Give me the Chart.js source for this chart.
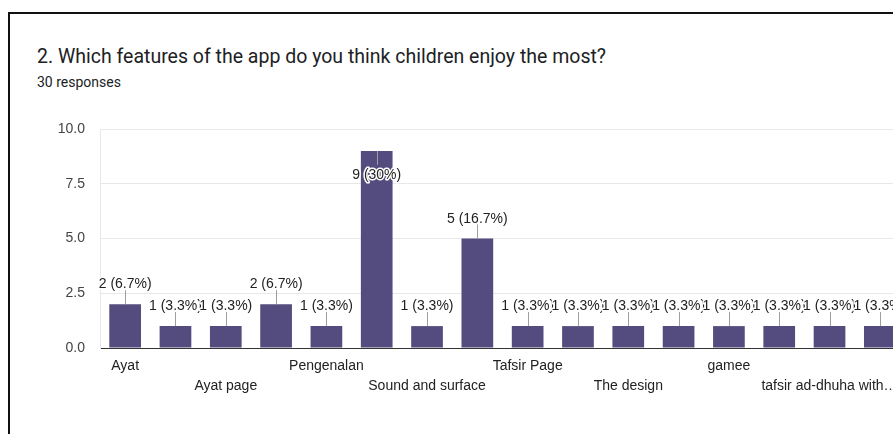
<!DOCTYPE html>
<html>
<head>
<meta charset="utf-8">
<script src="https://cdn.jsdelivr.net/npm/chart.js@4"></script>
<style>
  html, body { margin: 0; padding: 0; background: #fff; }
  body { width: 893px; height: 434px; overflow: hidden; position: relative; }
  .card {
    position: absolute; left: 8px; top: 12px; width: 1000px; height: 600px;
    border-top: 2px solid #111; border-left: 2px solid #111;
  }
  .title {
    position: absolute; left: 37px; top: 45px; margin: 0;
    font: 400 19.5px Roboto, "Noto Sans", sans-serif; color: #202124; white-space: nowrap;
  }
  .sub {
    position: absolute; left: 37px; top: 74px; margin: 0;
    font: 400 14px Roboto, "Noto Sans", sans-serif; color: #202124; white-space: nowrap;
  }
  #chart { position: absolute; left: 0; top: 0; }
</style>
</head>
<body>
<div class="card"></div>
<div class="title">2. Which features of the app do you think children enjoy the most?</div>
<div class="sub">30 responses</div>
<canvas id="chart" width="905" height="434"></canvas>
<script>
// Answer options (names of the in-between options are not shown on the axis)
const categories = [
  'Ayat', '', 'Ayat page', '', 'Pengenalan', '', 'Sound and surface', '',
  'Tafsir Page', '', 'The design', '', 'gamee', '', 'tafsir ad-dhuha with…', ''
];
// Number of responses per option
const counts = [2, 1, 1, 2, 1, 9, 1, 5, 1, 1, 1, 1, 1, 1, 1, 1];
const totalResponses = 30;
// Value axis ticks
const yTicks = [0, 2.5, 5, 7.5, 10];

const LABEL_FONT = '14px "Liberation Sans", Arial, sans-serif';

// Draws "n (p%)" above each bar with a short leader line
const barValueLabels = {
  id: 'barValueLabels',
  afterDatasetsDraw(chart) {
    const { ctx, chartArea } = chart;
    const meta = chart.getDatasetMeta(0);
    ctx.save();
    ctx.font = LABEL_FONT;
    ctx.textAlign = 'center';
    ctx.textBaseline = 'alphabetic';
    meta.data.forEach((bar, i) => {
      const v = counts[i];
      const pct = Math.round(v / totalResponses * 1000) / 10;
      const text = v + ' (' + pct + '%)';
      const x = Math.round(bar.x) + 0.5;
      const top = bar.y;
      const lead = 14;
      let lineEnd, baseline;
      if (top - lead - 16 < chartArea.top) {
        lineEnd = top + lead;
        baseline = lineEnd + 14;
      } else {
        lineEnd = top - lead;
        baseline = lineEnd - 2;
      }
      ctx.strokeStyle = '#9e9e9e';
      ctx.lineWidth = 1;
      ctx.beginPath();
      ctx.moveTo(x, top);
      ctx.lineTo(x, lineEnd);
      ctx.stroke();
      ctx.lineJoin = 'round';
      ctx.strokeStyle = '#fff';
      ctx.lineWidth = 3;
      ctx.strokeText(text, bar.x, baseline);
      ctx.fillStyle = '#222';
      ctx.fillText(text, bar.x, baseline);
    });
    ctx.restore();
  }
};

new Chart(document.getElementById('chart'), {
  type: 'bar',
  data: {
    labels: categories,
    datasets: [{
      data: counts,
      backgroundColor: '#544c7e',
      borderWidth: 0,
      categoryPercentage: 1,
      barPercentage: 0.63
    }]
  },
  options: {
    responsive: false,
    devicePixelRatio: 1,
    animation: false,
    layout: { padding: { left: 50, top: 129, right: 0, bottom: 0 } },
    plugins: { legend: { display: false }, tooltip: { enabled: false } },
    scales: {
      x: {
        afterFit(scale) { scale.height = 86; },
        grid: { display: false, drawTicks: false },
        border: { display: true, color: '#333', width: 1 },
        ticks: {
          autoSkip: false,
          maxRotation: 0,
          minRotation: 0,
          padding: 8,
          color: '#222',
          font: { family: '"Liberation Sans", Arial, sans-serif', size: 14, lineHeight: 1.43 },
          callback(value, index) {
            const name = categories[index];
            if (!name) return '';
            return index % 4 === 2 ? ['', name] : name;
          }
        }
      },
      y: {
        min: 0,
        max: 10,
        afterFit(scale) { scale.width = 50; },
        afterBuildTicks(scale) { scale.ticks = yTicks.map(v => ({ value: v })); },
        grid: {
          drawTicks: false,
          color: (c) => c.tick && c.tick.value === 0 ? 'rgba(0,0,0,0)' : '#e8e8e8'
        },
        border: { display: true, color: '#e8e8e8' },
        ticks: {
          padding: 15,
          color: '#444',
          font: { family: '"Liberation Sans", Arial, sans-serif', size: 14 },
          callback: (v) => Number(v).toFixed(1)
        }
      }
    }
  },
  plugins: [barValueLabels]
});
</script>
</body>
</html>
